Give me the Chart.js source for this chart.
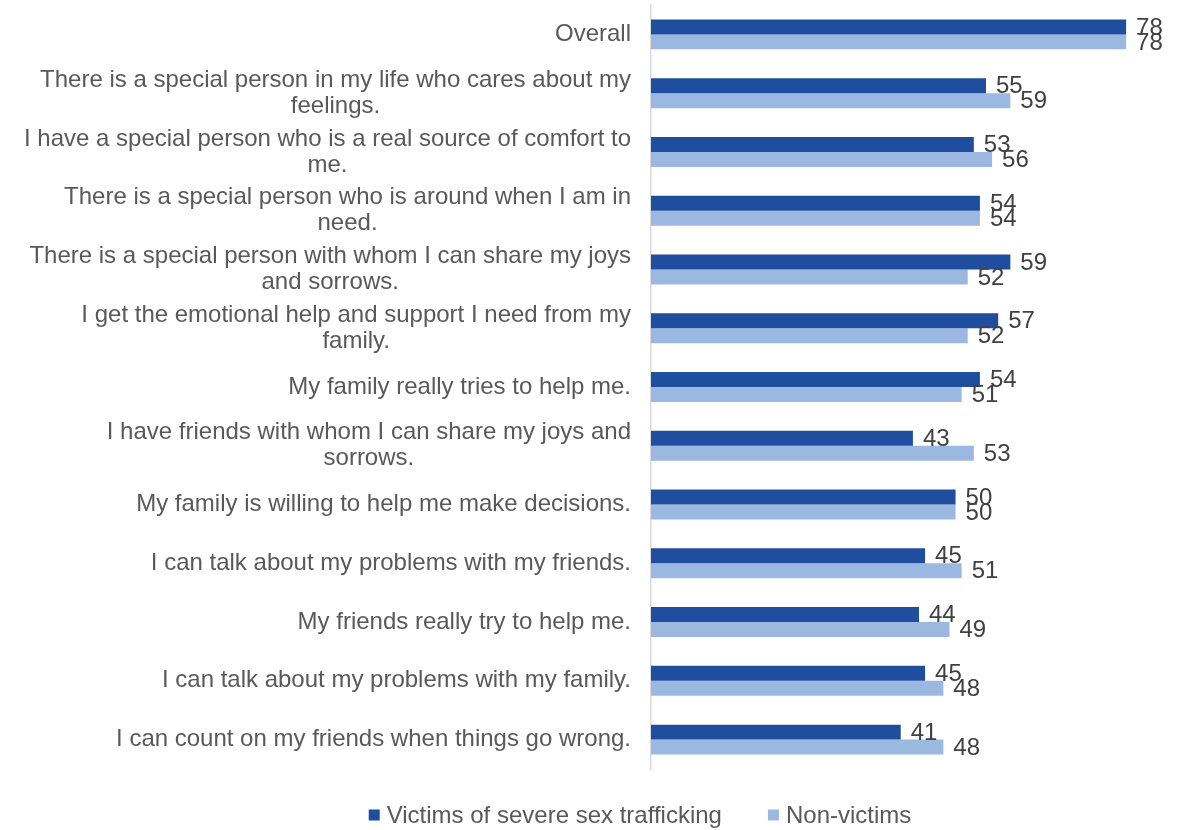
<!DOCTYPE html>
<html>
<head>
<meta charset="utf-8">
<script src="https://cdn.jsdelivr.net/npm/chart.js@4"></script>
<style>
  html, body { margin: 0; padding: 0; background: #fff; }
  #wrap { width: 1198px; height: 830px; }
</style>
</head>
<body>
<div id="wrap"><canvas id="chart"></canvas></div>
<script>
// ===== DATA =====
const categories = [
    ['Overall'],
    ['There is a special person in my life who cares about my', 'feelings.'],
    ['I have a special person who is a real source of comfort to', 'me.'],
    ['There is a special person who is around when I am in', 'need.'],
    ['There is a special person with whom I can share my joys', 'and sorrows.'],
    ['I get the emotional help and support I need from my', 'family.'],
    ['My family really tries to help me.'],
    ['I have friends with whom I can share my joys and', 'sorrows.'],
    ['My family is willing to help me make decisions.'],
    ['I can talk about my problems with my friends.'],
    ['My friends really try to help me.'],
    ['I can talk about my problems with my family.'],
    ['I can count on my friends when things go wrong.']
];
const victims = [78, 55, 53, 54, 59, 57, 54, 43, 50, 45, 44, 45, 41];
const nonVictims = [78, 59, 56, 54, 52, 52, 51, 53, 50, 51, 49, 48, 48];
const seriesNames = ['Victims of severe sex trafficking', 'Non-victims'];

const textColor = '#595959';
const fontFamily = '"Liberation Sans", Arial, sans-serif';

// category labels: block right-aligned to the axis, lines centred inside the block
const categoryLabels = {
    id: 'categoryLabels',
    afterDraw(chart) {
        const ctx = chart.ctx;
        const yScale = chart.scales.y;
        const right = chart.chartArea.left - 20;
        ctx.save();
        ctx.font = '24px ' + fontFamily;
        ctx.fillStyle = textColor;
        ctx.textAlign = 'center';
        ctx.textBaseline = 'middle';
        const lh = 26;
        categories.forEach((lines, i) => {
            const w = Math.max(...lines.map(l => ctx.measureText(l).width));
            const cx = right - w / 2;
            const yc = yScale.getPixelForValue(i);
            const top = yc - (lines.length - 1) * lh / 2;
            lines.forEach((l, j) => ctx.fillText(l, cx, top + j * lh));
        });
        ctx.restore();
    }
};

// value labels at bar ends
const valueLabels = {
    id: 'valueLabels',
    afterDatasetsDraw(chart) {
        const ctx = chart.ctx;
        ctx.save();
        ctx.font = '24px ' + fontFamily;
        ctx.fillStyle = '#404040';
        ctx.textAlign = 'left';
        ctx.textBaseline = 'middle';
        chart.data.datasets.forEach((ds, di) => {
            chart.getDatasetMeta(di).data.forEach((bar, i) => {
                ctx.fillText(ds.data[i], bar.x + 10, bar.y + 1);
            });
        });
        ctx.restore();
    }
};

// legend at the bottom, drawn by hand for Excel-like spacing
const bottomLegend = {
    id: 'bottomLegend',
    afterDraw(chart) {
        const ctx = chart.ctx;
        ctx.save();
        ctx.font = '24px ' + fontFamily;
        ctx.textBaseline = 'middle';
        ctx.textAlign = 'left';
        const box = 11, gap = 7, itemGap = 46;
        const widths = seriesNames.map(n => ctx.measureText(n).width);
        const total = widths.reduce((a, w) => a + box + gap + w, 0) + itemGap * (seriesNames.length - 1);
        let x = 640 - total / 2;
        const y = 815;
        chart.data.datasets.forEach((ds, i) => {
            ctx.fillStyle = ds.backgroundColor;
            ctx.fillRect(x, y - box / 2, box, box);
            ctx.fillStyle = textColor;
            ctx.fillText(seriesNames[i], x + box + gap, y + 1);
            x += box + gap + widths[i] + itemGap;
        });
        ctx.restore();
    }
};

new Chart(document.getElementById('chart'), {
    type: 'bar',
    data: {
        labels: categories.map(c => c.join(' ')),
        datasets: [
            { label: seriesNames[0], data: victims, backgroundColor: '#1F4E9F',
              categoryPercentage: 0.51, barPercentage: 1.0 },
            { label: seriesNames[1], data: nonVictims, backgroundColor: '#9BB8E0',
              categoryPercentage: 0.51, barPercentage: 1.0 }
        ]
    },
    options: {
        indexAxis: 'y',
        responsive: true,
        maintainAspectRatio: false,
        animation: false,
        layout: { padding: { left: 0, top: 5, right: 11, bottom: 61 } },
        scales: {
            x: { min: 0, max: 88, display: false },
            y: {
                afterFit: s => { s.width = 651; },
                ticks: { display: false },
                grid: { display: false, drawTicks: false },
                border: { display: true, color: '#D9D9D9', width: 1.5 }
            }
        },
        plugins: {
            legend: { display: false },
            tooltip: { enabled: false }
        }
    },
    plugins: [categoryLabels, valueLabels, bottomLegend]
});
</script>
</body>
</html>
